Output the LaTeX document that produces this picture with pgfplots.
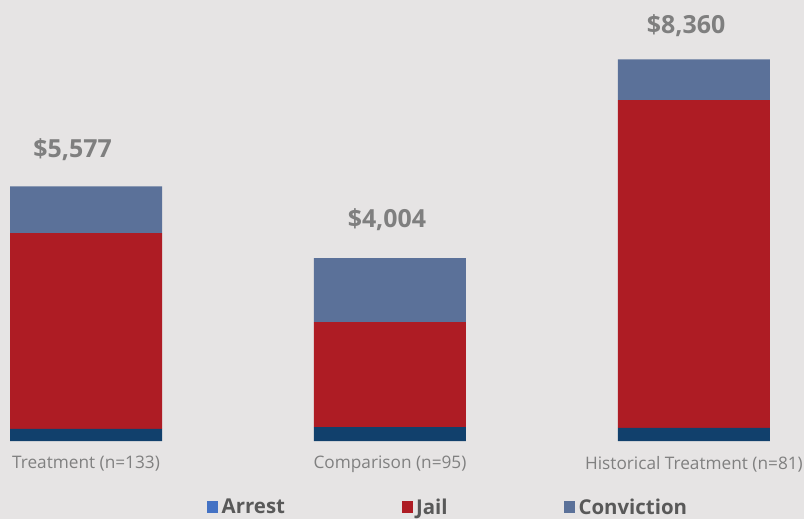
\documentclass[border=0pt]{standalone}
\usepackage{fontspec}
\setmainfont{Open Sans}
\usepackage{pgfplots}
\pgfplotsset{compat=1.18}
\definecolor{bg}{HTML}{E6E4E4}
\definecolor{arrest}{HTML}{11406C}
\definecolor{arrestleg}{HTML}{4472C4}
\definecolor{jail}{HTML}{AE1C24}
\definecolor{conv}{HTML}{5B7199}
\definecolor{valgray}{HTML}{7F7F7F}
\definecolor{tickgray}{HTML}{808080}
\definecolor{legtext}{HTML}{595959}
\begin{document}
\begin{tikzpicture}
\path[use as bounding box, fill=bg] (0,0) rectangle (804bp,519bp);
\begin{axis}[
  at={(0,78bp)}, anchor=south west,
  scale only axis, width=804bp, height=441bp,
  xmin=-0.283, xmax=2.362, ymin=0, ymax=9658,
  ybar stacked, bar width=152bp,
  axis line style={draw=none}, tick style={draw=none},
  ytick=\empty, xtick={0,1,2},
  xticklabels={Treatment (n=133),Comparison (n=95),Historical Treatment (n=81)},
  xticklabel style={anchor=center, yshift=-23bp, text=tickgray, font=\fontsize{17.3}{20}\selectfont},
  clip=false,
  legend columns=3,
  legend style={at={(0.2575,-0.150)}, anchor=west, draw=none, fill=none, inner sep=0pt,
    font=\bfseries\fontsize{20.5}{24}\selectfont, text=legtext,
    /tikz/every even column/.append style={column sep=113bp},
    nodes={inner ysep=2pt, inner xsep=3.5pt}},
  legend cell align=left,
]
\addplot[fill=arrest, draw=none, legend image code/.code={\fill[arrestleg] (0bp,-6bp) rectangle (11bp,6bp);}] coordinates {(0,263) (1,306) (2,285)};
\addplot[fill=jail, draw=none, legend image code/.code={\fill[jail] (0bp,-6bp) rectangle (11bp,6bp);}] coordinates {(0,4290) (1,2300) (2,7180)};
\addplot[fill=conv, draw=none, legend image code/.code={\fill[conv] (0bp,-6bp) rectangle (11bp,6bp);}] coordinates {(0,1024) (1,1398) (2,895)};
\legend{Arrest,Jail,Conviction}
\node[text=valgray, font=\bfseries\fontsize{25}{29}\selectfont] at (axis cs:-0.044,6373) {\$5,577};
\node[text=valgray, font=\bfseries\fontsize{25}{29}\selectfont] at (axis cs:0.99,4840) {\$4,004};
\node[text=valgray, font=\bfseries\fontsize{25}{29}\selectfont] at (axis cs:1.974,9089) {\$8,360};
\end{axis}
\end{tikzpicture}
\end{document}
